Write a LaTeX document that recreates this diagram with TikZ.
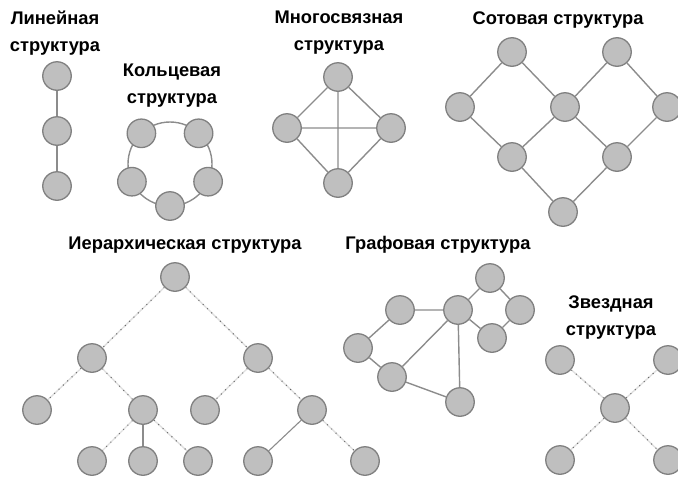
\documentclass[tikz,border=0pt]{standalone}
\usepackage{fontspec}
\setmainfont{Liberation Sans}
\begin{document}
\begin{tikzpicture}[x=1pt,y=-1pt,
  vert/.style={circle,draw=black!50,fill=black!25,line width=1.3pt,minimum size=28.5pt,inner sep=0pt},
  edge/.style={draw=black!45,line width=1.4pt},
  dotedge/.style={draw=black!12,line width=1.4pt,postaction={draw=black!60,line width=1pt,dash pattern=on 1pt off 5pt}},
  title/.style={font=\bfseries\fontsize{18.3}{27}\selectfont,align=center,inner sep=0pt}]
\useasboundingbox (0,0) rectangle (678,477);
\clip (0,0) rectangle (678,477);
% ---------------- Linear
\node[title] (tlin) at (55,33) {Линейная\\структура};
\node[vert] (l1) at (57,76) {};
\node[vert] (l2) at (57,131) {};
\node[vert] (l3) at (57,186) {};
\draw[edge] (l1) -- (l2) (l2) -- (l3);
% ---------------- Ring
\node[title] (tring) at (172,86) {Кольцевая\\структура};
\coordinate (rc) at (170,164);
\draw[edge] (rc) circle[radius=42];
\node[vert] (r1) at (198.6,133.3) {};
\node[vert] (r2) at (141.4,133.3) {};
\node[vert] (r3) at (131.9,181.7) {};
\node[vert] (r4) at (170,206) {};
\node[vert] (r5) at (208.1,181.7) {};
% ---------------- Multi-connected
\node[title] (tmulti) at (339,33) {Многосвязная\\структура};
\node[vert] (m1) at (338,77) {};
\node[vert] (m2) at (287,128) {};
\node[vert] (m3) at (391,128) {};
\node[vert] (m4) at (338,183) {};
\draw[edge] (m1) -- (m2) (m1) -- (m3) (m1) -- (m4) (m2) -- (m3) (m2) -- (m4) (m3) -- (m4);
% ---------------- Honeycomb
\node[title] (thon) at (558,20) {Сотовая структура};
\node[vert] (h1) at (512,52) {};
\node[vert] (h2) at (617,52) {};
\node[vert] (h3) at (460,107) {};
\node[vert] (h4) at (565,107) {};
\node[vert] (h5) at (667,107) {};
\node[vert] (h6) at (512,157) {};
\node[vert] (h7) at (617,157) {};
\node[vert] (h8) at (563,212) {};
\draw[edge] (h1) -- (h3) (h1) -- (h4) (h2) -- (h4) (h2) -- (h5)
  (h3) -- (h6) (h4) -- (h6) (h4) -- (h7) (h5) -- (h7) (h6) -- (h8) (h7) -- (h8);
% ---------------- Hierarchy
\node[title] (thier) at (185,245) {Иерархическая структура};
\node[vert] (a0) at (175,277) {};
\node[vert] (a1) at (92,358) {};
\node[vert] (a2) at (258,358) {};
\node[vert] (b1) at (37,410) {};
\node[vert] (b2) at (143,410) {};
\node[vert] (b3) at (205,410) {};
\node[vert] (b4) at (312,410) {};
\node[vert] (c1) at (92,461) {};
\node[vert] (c2) at (143,461) {};
\node[vert] (c3) at (198,461) {};
\node[vert] (c4) at (258,461) {};
\node[vert] (c5) at (365,461) {};
\draw[dotedge] (a0) -- (a1);
\draw[dotedge] (a0) -- (a2);
\draw[dotedge] (a1) -- (b1);
\draw[dotedge] (a1) -- (b2);
\draw[dotedge] (a2) -- (b3);
\draw[dotedge] (a2) -- (b4);
\draw[dotedge] (b2) -- (c1);
\draw[dotedge] (b2) -- (c3);
\draw[dotedge] (b4) -- (c5);
\draw[edge,line width=1.1pt] (b2) -- (c2);
\draw[edge,line width=1.1pt] (b4) -- (c4);
% ---------------- Graph
\node[title] (tgraph) at (438,245) {Графовая структура};
\node[vert] (g1) at (400,310) {};
\node[vert] (g2) at (458,310) {};
\node[vert] (g3) at (490,278) {};
\node[vert] (g4) at (520,310) {};
\node[vert] (g5) at (492,338) {};
\node[vert] (g6) at (358,348) {};
\node[vert] (g7) at (392,377) {};
\node[vert] (g8) at (460,402) {};
\draw[edge] (g1) -- (g2) (g1) -- (g6) (g6) -- (g7) (g7) -- (g2) (g7) -- (g8)
  (g2) -- (g8) (g2) -- (g3) (g3) -- (g4) (g4) -- (g5) (g5) -- (g2);
% ---------------- Star
\node[title] (tstar) at (611,318) {Звездная\\структура};
\node[vert] (s0) at (615,408) {};
\node[vert] (s1) at (560,360) {};
\node[vert] (s2) at (668,360) {};
\node[vert] (s3) at (560,460) {};
\node[vert] (s4) at (668,460) {};
\draw[dotedge] (s0) -- (s1);
\draw[dotedge] (s0) -- (s2);
\draw[dotedge] (s0) -- (s3);
\draw[dotedge] (s0) -- (s4);
\end{tikzpicture}
\end{document}
